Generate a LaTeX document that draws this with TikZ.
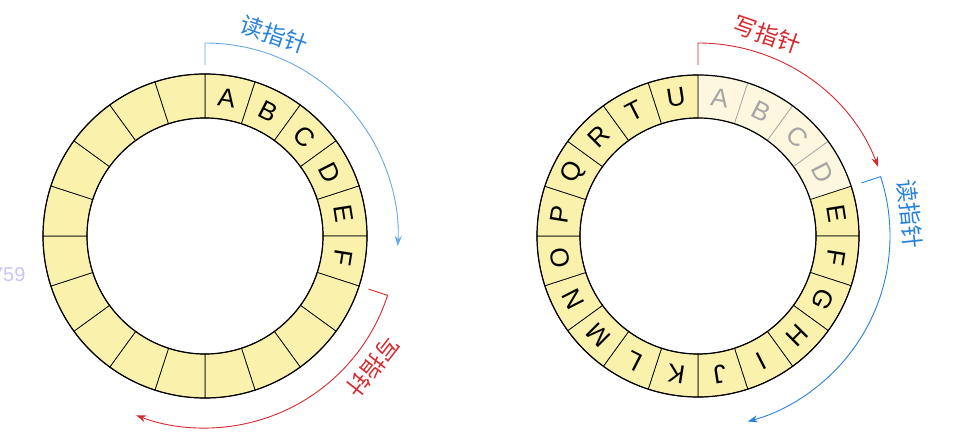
\documentclass[tikz,border=0pt]{standalone}
\usepackage{fontspec}
\setsansfont{Liberation Sans}
\newfontfamily\cjk{Noto Sans CJK SC}
\usetikzlibrary{arrows.meta}
\definecolor{ringyellow}{RGB}{250,242,172}
\definecolor{ringpale}{RGB}{252,247,222}
\definecolor{readblue}{RGB}{40,130,220}
\definecolor{writered}{RGB}{215,40,45}
\definecolor{tagpurple}{RGB}{205,195,245}
\tikzset{
  seg/.style={fill=ringyellow, draw=black, line width=0.7pt},
  fadedseg/.style={fill=ringpale, draw=black!35, line width=0.7pt},
  letter/.style={font=\sffamily\fontsize{26}{28}\selectfont},
  ptr/.style={line width=0.9pt, -{Stealth[length=10pt,width=7pt]}},
  ptrlabel/.style={font=\cjk\fontsize{23}{25}\selectfont}
}
\begin{document}
\begin{tikzpicture}[x=1pt,y=1pt]
  \useasboundingbox (0,0) rectangle (962,442);
  \coordinate (lc) at (205,206);
  \coordinate (rc) at (698,206);
  % left ring
  \foreach \k in {0,...,19} {
    \pgfmathsetmacro{\a}{90-18*\k}
    \draw[seg] ([shift={(\a:162)}]lc) arc (\a:\a-18:162)
      -- ([shift={(\a-18:118)}]lc) arc (\a-18:\a:118) -- cycle;
  }
  \draw[black, line width=1.2pt] (lc) circle (162) (lc) circle (118);
  \foreach \t [count=\k from 0] in {A,B,C,D,E,F} {
    \pgfmathsetmacro{\a}{81-18*\k}
    \node[letter, rotate=\a-90] (l\t) at ([shift={(\a:140)}]lc) {\t};
  }
  % right ring
  \foreach \t [count=\k from 0] in {A,B,C,D,E,F,G,H,I,J,K,L,M,N,O,P,Q,R,T,U} {
    \pgfmathsetmacro{\a}{90-18*\k}
    \pgfmathsetmacro{\b}{81-18*\k}
    \ifnum\k<4
      \draw[fadedseg] ([shift={(\a:161)}]rc) arc (\a:\a-18:161)
        -- ([shift={(\a-18:118)}]rc) arc (\a-18:\a:118) -- cycle;
      \node[letter, text=black!35, rotate=\b-90] (r\t) at ([shift={(\b:140)}]rc) {\t};
    \else
      \draw[seg] ([shift={(\a:161)}]rc) arc (\a:\a-18:161)
        -- ([shift={(\a-18:118)}]rc) arc (\a-18:\a:118) -- cycle;
      \node[letter, rotate=\b-90] (r\t) at ([shift={(\b:140)}]rc) {\t};
    \fi
  }
  \draw[black, line width=1.2pt] (rc) circle (161) (rc) circle (118);
  % pointers
  \draw[ptr, readblue!70] ([shift={(90:171)}]lc) -- ([shift={(90:193)}]lc) arc (90:-3:193);
  \node[ptrlabel, text=readblue, rotate=-19] (lread) at ([shift={(71:213)}]lc) {读指针};
  \draw[ptr, writered] ([shift={(-18:172)}]lc) -- ([shift={(-18:192)}]lc) arc (-18:-111:192);
  \node[ptrlabel, text=writered, rotate=-128] (lwrite) at ([shift={(-38:213)}]lc) {写指针};
  \draw[ptr, writered] ([shift={(90:171)}]rc) -- ([shift={(90:193)}]rc) arc (90:21:193);
  \node[ptrlabel, text=writered, rotate=-19] (rwrite) at ([shift={(71:213)}]rc) {写指针};
  \draw[ptr, readblue] ([shift={(18:172)}]rc) -- ([shift={(18:192)}]rc) arc (18:-75:192);
  \node[ptrlabel, text=readblue, rotate=-84] (rread) at ([shift={(6:213)}]rc) {读指针};
  \node[font=\sffamily\fontsize{20}{22}\selectfont, text=tagpurple, anchor=east] (tag) at (29,167) {1759};
\end{tikzpicture}
\end{document}
